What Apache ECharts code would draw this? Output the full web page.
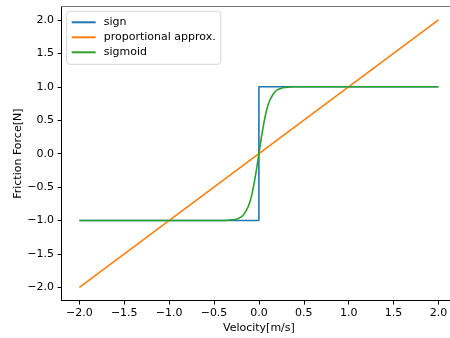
<!DOCTYPE html>
<html><head><meta charset="utf-8">
<script src="https://cdn.jsdelivr.net/npm/echarts@6/dist/echarts.min.js"></script>
<style>html,body{margin:0;padding:0;background:#fff}#c{width:450px;height:338px}</style>
</head><body><div id="c"></div>
<script>
const xTicks = [-2.0, -1.5, -1.0, -0.5, 0.0, 0.5, 1.0, 1.5, 2.0];
const yTicks = [-2.0, -1.5, -1.0, -0.5, 0.0, 0.5, 1.0, 1.5, 2.0];
const signData = [[-2, -1], [0, -1], [0, 1], [2, 1]];
const propData = [[-2, -2], [2, 2]];
const sigmoidX = [-2, -0.5, -0.4, -0.35, -0.3, -0.25, -0.2, -0.175, -0.15, -0.125, -0.1, -0.075, -0.05, -0.025, 0,
                  0.025, 0.05, 0.075, 0.1, 0.125, 0.15, 0.175, 0.2, 0.25, 0.3, 0.35, 0.4, 0.5, 2];
const sigmoidY = [-1, -1, -1, -0.996, -0.99, -0.98, -0.95, -0.92, -0.87, -0.81, -0.72, -0.59, -0.42, -0.22, 0,
                  0.22, 0.42, 0.59, 0.72, 0.81, 0.87, 0.92, 0.95, 0.98, 0.99, 0.996, 1, 1, 1];
const sigmoidData = sigmoidX.map((x, i) => [x, sigmoidY[i]]);

const fmt = v => (v < 0 ? '\u2212' : '') + Math.abs(v).toFixed(1);
const font = 'DejaVu Sans';
const chart = echarts.init(document.getElementById('c'), null, {renderer: 'canvas'});
chart.setOption({
  animation: false,
  backgroundColor: '#fff',
  grid: {left: 61.4, top: 6.6, width: 395, height: 294.1, containLabel: false, outerBoundsMode: 'none'},
  legend: {
    orient: 'vertical', left: 66.7, top: 11.3,
    itemWidth: 24, itemHeight: 13, itemGap: 4,
    padding: [5.5, 5, 6.5, 4],
    itemStyle: {opacity: 0},
    borderColor: '#d6d6d6', borderWidth: 1, borderRadius: 3, backgroundColor: 'rgba(255,255,255,0.8)',
    textStyle: {fontFamily: font, fontSize: 11, color: '#000', padding: [0, 0, 0, 3]},
    data: ['sign', 'proportional approx.', 'sigmoid']
  },
  xAxis: [{
    type: 'value', min: -2.2, max: 2.2, position: 'bottom',
    name: 'Velocity[m/s]', nameLocation: 'middle', nameGap: 21.5, nameMoveOverlap: false,
    nameTextStyle: {fontFamily: font, fontSize: 11, color: '#000'},
    axisLine: {show: true, onZero: false, lineStyle: {color: '#000', width: 1}},
    axisTick: {show: true, length: 3.85, lineStyle: {color: '#000'}, customValues: xTicks},
    axisLabel: {fontFamily: font, fontSize: 11, color: '#000', margin: 6.5, customValues: xTicks, formatter: fmt},
    splitLine: {show: false}
  }, {
    type: 'value', min: -2.2, max: 2.2, position: 'top',
    axisLine: {show: true, onZero: false, lineStyle: {color: '#777', width: 1}},
    axisTick: {show: false}, axisLabel: {show: false}, splitLine: {show: false}
  }],
  yAxis: {
    type: 'value', min: -2.2, max: 2.2,
    name: 'Friction Force[N]', nameLocation: 'middle', nameGap: 38, nameRotate: 90, nameMoveOverlap: false,
    nameTextStyle: {fontFamily: font, fontSize: 11, color: '#000'},
    axisLine: {show: true, onZero: false, lineStyle: {color: '#000', width: 1}},
    axisTick: {show: true, length: 3.85, lineStyle: {color: '#000'}, customValues: yTicks},
    axisLabel: {fontFamily: font, fontSize: 11, color: '#000', margin: 7.5, customValues: yTicks, formatter: fmt},
    splitLine: {show: false}
  },
  series: [
    {name: 'sign', type: 'line', data: signData, symbol: 'none', color: '#1f77b4', lineStyle: {width: 1.6, color: '#1f77b4'}},
    {name: 'proportional approx.', type: 'line', data: propData, symbol: 'none', color: '#ff7f0e', lineStyle: {width: 1.6, color: '#ff7f0e'}},
    {name: 'sigmoid', type: 'line', data: sigmoidData, symbol: 'none', smooth: 0.2, color: '#2ca02c', lineStyle: {width: 1.6, color: '#2ca02c'}}
  ]
});
</script></body></html>
